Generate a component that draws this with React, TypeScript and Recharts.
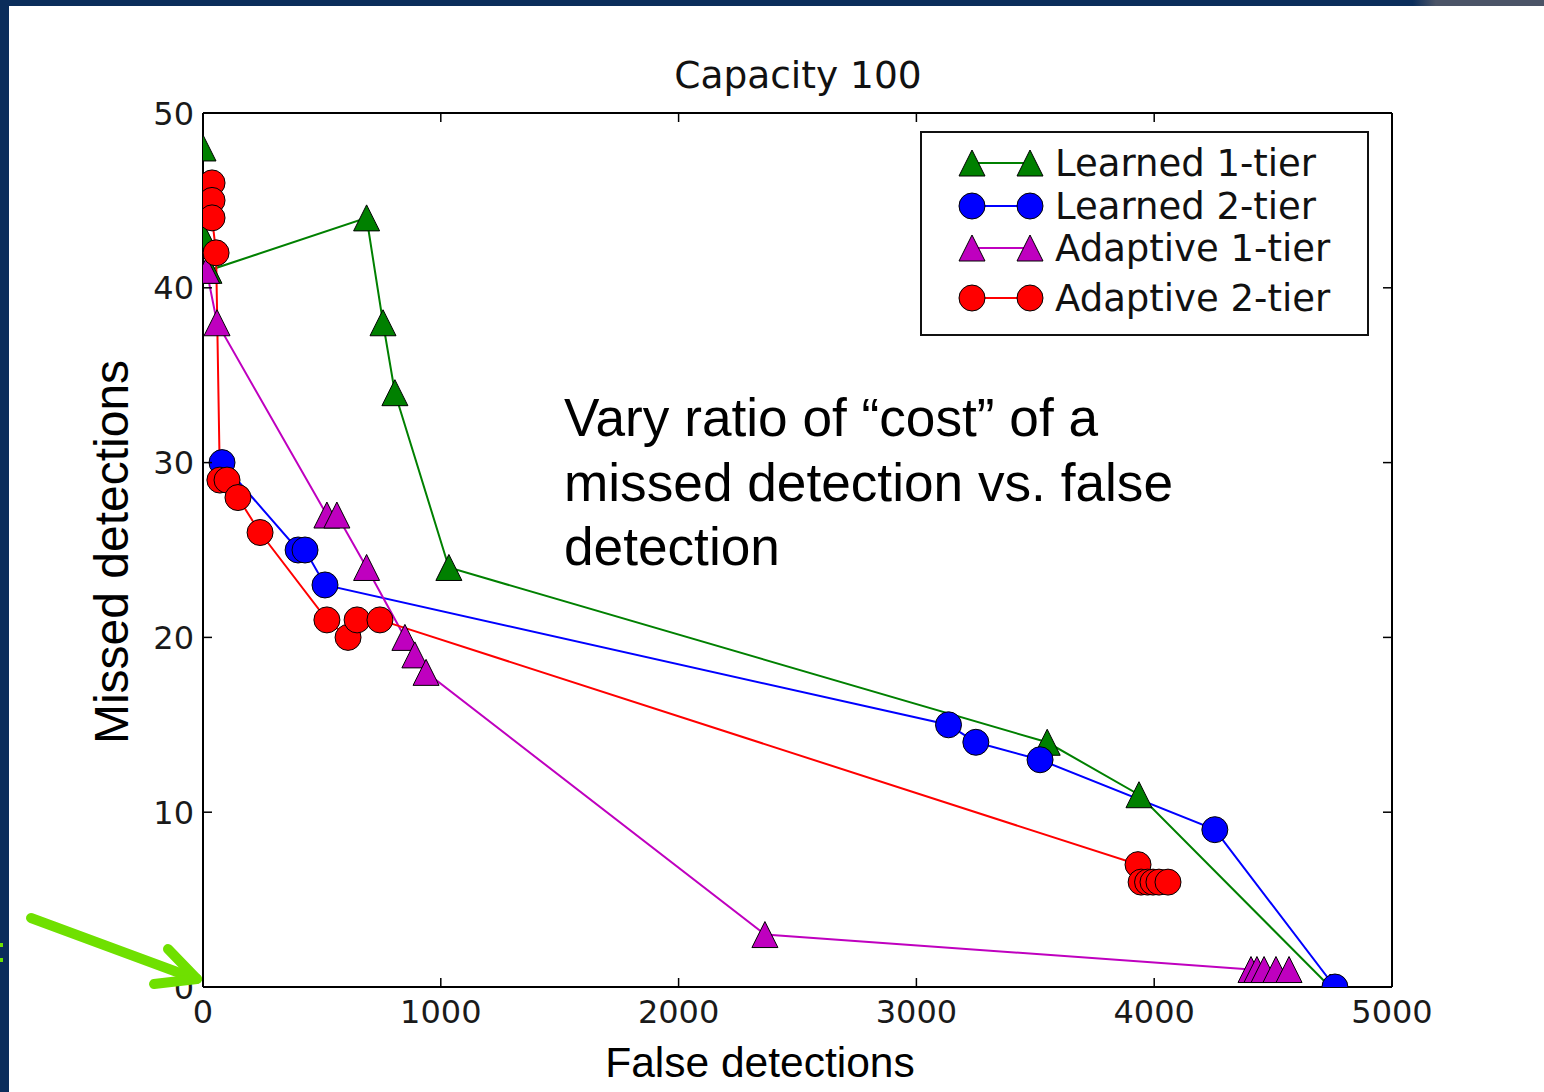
import React from 'react';
import { LineChart, Line, XAxis, YAxis, ReferenceLine, Legend } from 'recharts';

// ---------- data ----------
const X_TICKS = [0, 1000, 2000, 3000, 4000, 5000];
const Y_TICKS = [0, 10, 20, 30, 40, 50];

const learned1X = [0, 0, 25, 688, 757, 807, 1034, 3550, 3936, 4740];
const learned1Y = [48, 43, 41, 44, 38, 34, 24, 14, 11, 0];

const learned2X = [80, 400, 429, 513, 3135, 3250, 3520, 4255, 4760];
const learned2Y = [30, 25, 25, 23, 15, 14, 13, 9, 0];

const adaptive1X = [15, 59, 521, 563, 688, 849, 891, 938, 2363, 4407, 4432, 4462, 4512, 4567];
const adaptive1Y = [41, 38, 27, 27, 24, 20, 19, 18, 3, 1, 1, 1, 1, 1];

const adaptive2X = [38, 38, 38, 55, 71, 101, 147, 240, 521, 610, 648, 744, 3932, 3945, 3972, 3995, 4020, 4058];
const adaptive2Y = [46, 45, 44, 42, 29, 29, 28, 26, 21, 20, 21, 21, 7, 6, 6, 6, 6, 6];

const TITLE = 'Capacity 100';
const X_LABEL = 'False detections';
const Y_LABEL = 'Missed detections';
const NOTE_LINES = ['Vary ratio of \u201ccost\u201d of a', 'missed detection vs. false', 'detection'];

const toPoints = (xs: number[], ys: number[]) => xs.map((x, i) => ({ x, y: ys[i] }));

const SERIES = [
  { name: 'Learned 1-tier', color: '#008000', shape: 'triangle', data: toPoints(learned1X, learned1Y) },
  { name: 'Learned 2-tier', color: '#0000ff', shape: 'circle', data: toPoints(learned2X, learned2Y) },
  { name: 'Adaptive 1-tier', color: '#bf00bf', shape: 'triangle', data: toPoints(adaptive1X, adaptive1Y) },
  { name: 'Adaptive 2-tier', color: '#ff0000', shape: 'circle', data: toPoints(adaptive2X, adaptive2Y) },
];

// ---------- layout ----------
const W = 1544;
const H = 1092;
const PLOT_L = 203;
const PLOT_R = 1392;
const PLOT_T = 113;
const PLOT_B = 987;
const YAXIS_W = 90;
const XAXIS_H = 50;
const TICK_LEN = 9;
const MARKER = 26;
const TICK_FONT = 32;

function Marker({ cx, cy, shape, color, size = MARKER }: any) {
  const h = size / 2;
  if (shape === 'triangle') {
    return (
      <path
        d={`M${cx},${cy - h}L${cx + h},${cy + h}L${cx - h},${cy + h}Z`}
        fill={color}
        stroke="#000"
        strokeWidth={1}
        strokeLinejoin="miter"
      />
    );
  }
  return <circle cx={cx} cy={cy} r={h} fill={color} stroke="#000" strokeWidth={1} />;
}

function YTick(props: any) {
  const { x, y, payload } = props;
  return (
    <g>
      <text
        x={x - 9}
        y={y}
        dy={11.5}
        textAnchor="end"
        fontFamily="DejaVu Sans"
        fontSize={TICK_FONT}
        fill="#1a1a1a"
      >
        {payload.value}
      </text>
      <line x1={x} x2={x + TICK_LEN} y1={y} y2={y} stroke="#000" strokeWidth={1.5} />
      <line x1={PLOT_R - TICK_LEN} x2={PLOT_R} y1={y} y2={y} stroke="#000" strokeWidth={1.5} />
    </g>
  );
}

function XTick(props: any) {
  const { x, y, payload } = props;
  return (
    <g>
      <text
        x={x}
        y={y + 36}
        textAnchor="middle"
        fontFamily="DejaVu Sans"
        fontSize={TICK_FONT}
        fill="#1a1a1a"
      >
        {payload.value}
      </text>
      <line x1={x} x2={x} y1={y} y2={y - TICK_LEN} stroke="#000" strokeWidth={1.5} />
      <line x1={x} x2={x} y1={PLOT_T} y2={PLOT_T + TICK_LEN} stroke="#000" strokeWidth={1.5} />
    </g>
  );
}

const LEGEND_ROW_Y = [32, 75, 117, 167];

function LegendBox() {
  return (
    <svg width={449} height={205} style={{ display: 'block' }}>
      <rect x={1} y={1} width={447} height={203} fill="#fff" stroke="#111" strokeWidth={2} />
      {SERIES.map((s, i) => {
        const cy = LEGEND_ROW_Y[i];
        return (
          <g key={s.name}>
            <line x1={52} x2={110} y1={cy} y2={cy} stroke={s.color} strokeWidth={2} />
            <Marker cx={52} cy={cy} shape={s.shape} color={s.color} />
            <Marker cx={110} cy={cy} shape={s.shape} color={s.color} />
            <text x={135} y={cy} dy={13} fontFamily="DejaVu Sans" fontSize={37} fill="#111">
              {s.name}
            </text>
          </g>
        );
      })}
    </svg>
  );
}

function Overlay() {
  const arrow = '#6fe000';
  return (
    <svg
      width={W}
      height={H}
      style={{ position: 'absolute', left: 0, top: 0, pointerEvents: 'none', zIndex: 5 }}
    >
      <defs>
        <linearGradient id="topbar" x1="0" x2="1" y1="0" y2="0">
          <stop offset="0.915" stopColor="#0b2d5b" />
          <stop offset="0.93" stopColor="#4b5467" />
          <stop offset="1" stopColor="#4b5467" />
        </linearGradient>
      </defs>
      <rect x={0} y={0} width={W} height={6} fill="url(#topbar)" />
      <rect x={0} y={0} width={9} height={H} fill="#0b2d5b" />
      <rect x={0} y={943} width={3} height={4} fill={arrow} />
      <rect x={0} y={958} width={3} height={4} fill={arrow} />
      <g stroke={arrow} strokeWidth={10} strokeLinecap="round" fill="none">
        <line x1={31} y1={918} x2={196} y2={979} />
        <line x1={168} y1={949} x2={197} y2={979} />
        <line x1={154} y1={984} x2={197} y2={979} />
      </g>
      <text x={798} y={88} textAnchor="middle" fontFamily="DejaVu Sans" fontSize={37.5} fill="#111">
        {TITLE}
      </text>
      <text x={760} y={1077} textAnchor="middle" fontFamily="Liberation Sans" fontSize={42.5} fill="#000">
        {X_LABEL}
      </text>
      <text
        x={0}
        y={0}
        transform="translate(128,552) rotate(-90)"
        textAnchor="middle"
        fontFamily="Liberation Sans"
        fontSize={48}
        fill="#000"
      >
        {Y_LABEL}
      </text>
      {NOTE_LINES.map((t, i) => (
        <text key={i} x={564} y={436 + i * 64.5} fontFamily="Liberation Sans" fontSize={53.2} fill="#000">
          {t}
        </text>
      ))}
    </svg>
  );
}

export default function App() {
  return (
    <div style={{ position: 'absolute', left: 0, top: 0, width: W, height: H, background: '#fff', overflow: 'hidden' }}>
      <LineChart
        width={W}
        height={H}
        margin={{ top: PLOT_T, right: W - PLOT_R, left: PLOT_L - YAXIS_W, bottom: H - PLOT_B - XAXIS_H }}
      >
        <XAxis
          type="number"
          dataKey="x"
          domain={[0, 5000]}
          ticks={X_TICKS}
          interval={0}
          allowDataOverflow
          height={XAXIS_H}
          tickSize={0}
          tickMargin={0}
          tickLine={false}
          axisLine={{ stroke: '#000', strokeWidth: 2 }}
          tick={XTick}
        />
        <YAxis
          type="number"
          dataKey="y"
          domain={[0, 50]}
          ticks={Y_TICKS}
          interval={0}
          allowDataOverflow
          width={YAXIS_W}
          tickSize={0}
          tickMargin={0}
          tickLine={false}
          axisLine={{ stroke: '#000', strokeWidth: 2 }}
          tick={YTick}
        />
        <ReferenceLine y={50} stroke="#000" strokeWidth={2} />
        <ReferenceLine x={5000} stroke="#000" strokeWidth={2} />
        {SERIES.map((s) => (
          <Line
            key={s.name}
            name={s.name}
            data={s.data}
            dataKey="y"
            type="linear"
            stroke={s.color}
            strokeWidth={2}
            isAnimationActive={false}
            dot={(p: any) => (
              <Marker
                key={`${s.name}-${p.index}`}
                cx={p.cx}
                cy={p.cy}
                shape={s.shape}
                color={s.color}
              />
            )}
            activeDot={false}
          />
        ))}
        <Legend
          layout="horizontal"
          verticalAlign="middle"
          align="center"
          wrapperStyle={{ position: 'absolute', left: 920, top: 131, width: 449, height: 205 }}
          content={() => <LegendBox />}
        />
      </LineChart>
      <Overlay />
    </div>
  );
}
